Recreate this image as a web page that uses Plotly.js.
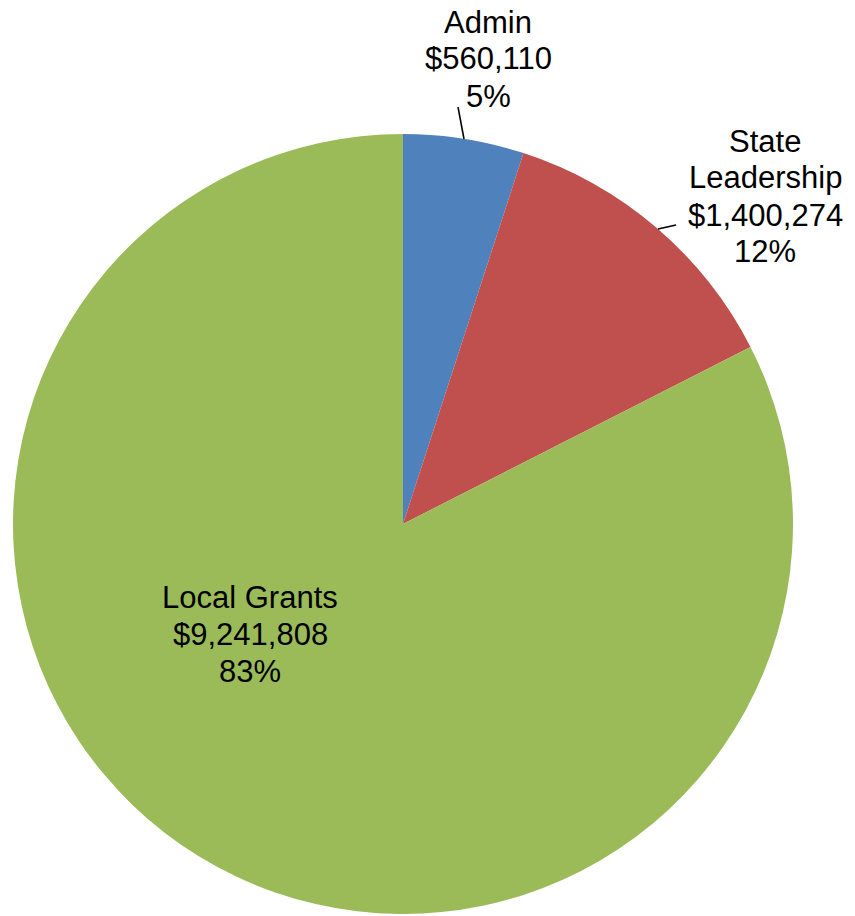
<!DOCTYPE html>
<html>
<head>
<meta charset="utf-8">
<script src="https://cdn.plot.ly/plotly-3.0.1.min.js"></script>
<style>html,body{margin:0;padding:0;background:#fff;}#chart{width:855px;height:916px;}</style>
</head>
<body>
<div id="chart"></div>
<script>
// Data
var categories = ["Admin", "State Leadership", "Local Grants"];
var amounts = [560110, 1400274, 9241808];
var amountLabels = ["$560,110", "$1,400,274", "$9,241,808"];
var percentLabels = ["5%", "12%", "83%"];
var colors = ["#4F81BD", "#C0504D", "#9BBB59"];

// Label placement (layout only)
var W = 855, H = 916;
var labelLines = [
  ["Admin", amountLabels[0], percentLabels[0]],
  ["State", "Leadership", amountLabels[1], percentLabels[1]],
  ["Local Grants", amountLabels[2], percentLabels[2]]
];
var labelCenters = [[488, 22], [765, 141], [250, 597]];
var lineStep = 37;

var annotations = [];
labelLines.forEach(function (lines, k) {
  lines.forEach(function (t, i) {
    annotations.push({
      text: t, showarrow: false, xref: "paper", yref: "paper",
      x: labelCenters[k][0] / W, y: 1 - (labelCenters[k][1] + i * lineStep) / H,
      xanchor: "center", yanchor: "middle",
      font: {family: "Liberation Sans, Arial, sans-serif", size: 31, color: "#000"}
    });
  });
});

var leaders = [
  [[464, 139], [458, 107]],
  [[658, 229], [676, 225]]
];
var shapes = leaders.map(function (s) {
  return {type: "line", xref: "paper", yref: "paper",
    x0: s[0][0] / W, y0: 1 - s[0][1] / H, x1: s[1][0] / W, y1: 1 - s[1][1] / H,
    line: {color: "#000", width: 1.5}};
});

var trace = {
  type: "pie",
  labels: categories,
  values: amounts,
  sort: false,
  direction: "clockwise",
  rotation: 0,
  textinfo: "none",
  hoverinfo: "label+value+percent",
  marker: {colors: colors, line: {width: 0}},
  domain: {x: [13 / W, 793 / W], y: [1 - 914 / H, 1 - 134 / H]},
  showlegend: false
};

var layout = {
  width: W, height: H,
  margin: {l: 0, r: 0, t: 0, b: 0},
  paper_bgcolor: "#fff",
  showlegend: false,
  annotations: annotations,
  shapes: shapes
};

Plotly.newPlot("chart", [trace], layout, {displayModeBar: false, staticPlot: true});
</script>
</body>
</html>
